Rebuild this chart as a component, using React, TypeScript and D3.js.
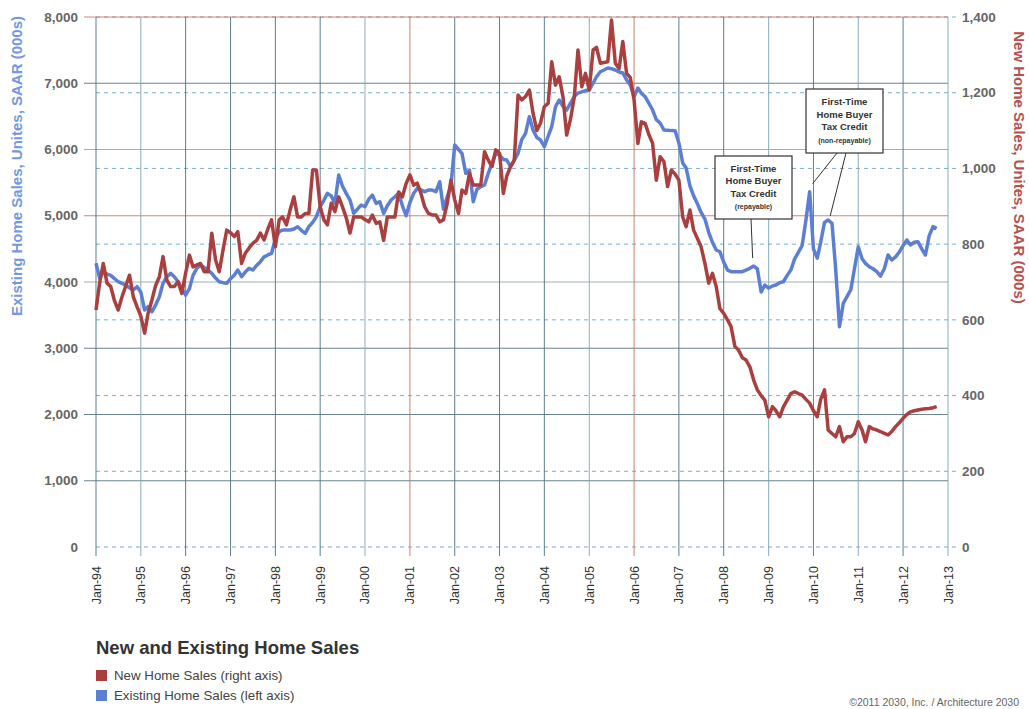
import React from "react";
import * as d3 from "d3";

const startYear = 1994;
const yearTicks = d3.range(1994, 2014);
const leftTicks = [0, 1000, 2000, 3000, 4000, 5000, 6000, 7000, 8000];
const rightTicks = [0, 200, 400, 600, 800, 1000, 1200, 1400];

const existingSales = [
  4283, 4050, 4156, 4120, 4100, 4050, 4004, 3980, 3954, 3910, 3879, 3929,
  3850, 3577, 3627, 3550, 3650, 3778, 3980, 4080, 4130, 4080, 4004, 3900,
  3800, 3900, 4100, 4206, 4256, 4220, 4181, 4130, 4060, 4004, 3990, 3980,
  4050, 4105, 4181, 4080, 4150, 4206, 4181, 4250, 4307, 4380, 4408, 4433,
  4650, 4760, 4785, 4785, 4785, 4800, 4835, 4780, 4735, 4835, 4900, 4985,
  5136, 5237, 5338, 5300, 5187, 5615, 5450, 5338, 5237, 5036, 5100, 5162,
  5136, 5250, 5313, 5187, 5212, 5036, 5150, 5237, 5287, 5338, 5150, 5000,
  5200, 5338, 5413, 5390, 5363, 5388, 5388, 5363, 5514, 5100, 5287, 5450,
  6068, 6000, 5942, 5640, 5690, 5212, 5400, 5438, 5464, 5640, 5791, 5942,
  5917, 5850, 5841, 5740, 5841, 5942, 6150, 6244, 6495, 6294, 6180, 6143,
  6043, 6200, 6344, 6646, 6747, 6650, 6596, 6700, 6800, 6852, 6870, 6890,
  6898, 7000, 7098, 7174, 7200, 7230, 7220, 7200, 7170, 7155, 7050, 6974,
  6797, 6928, 6850, 6797, 6700, 6596, 6450, 6400, 6294, 6290, 6285, 6283,
  6098, 5796, 5720, 5450, 5300, 5180, 5050, 4950, 4750, 4600, 4483, 4457,
  4300, 4180, 4156, 4156, 4156, 4156, 4180, 4206, 4240, 4200, 3850, 3954,
  3909, 3940, 3954, 3990, 4004, 4100, 4180, 4350, 4450, 4550, 4936, 5363,
  4500, 4360, 4600, 4900, 4936, 4886, 4200, 3325, 3678, 3778, 3880, 4200,
  4533, 4350, 4282, 4231, 4200, 4156, 4090, 4200, 4408, 4332, 4380, 4450,
  4550, 4634, 4559, 4600, 4609, 4500, 4408, 4700, 4835, 4810
];

const newSales = [
  626, 700, 749, 697, 688, 650, 626, 661, 690, 718, 661, 635,
  610, 565, 617, 652, 690, 714, 767, 705, 688, 688, 701, 670,
  723, 771, 740, 745, 749, 727, 727, 829, 758, 727, 785, 837,
  830, 820, 833, 749, 776, 790, 802, 810, 829, 811, 840, 864,
  793, 864, 872, 851, 890, 925, 872, 872, 881, 881, 996, 996,
  899, 864, 851, 908, 886, 925, 899, 870, 829, 872, 872, 872,
  865, 859, 877, 855, 859, 810, 872, 872, 872, 938, 925, 960,
  983, 956, 961, 934, 899, 881, 877, 877, 859, 864, 908, 969,
  917, 881, 943, 934, 987, 956, 956, 956, 1044, 1022, 1005, 1049,
  1040, 934, 980, 1005, 1022, 1194, 1181, 1190, 1207, 1146, 1100, 1120,
  1163, 1172, 1282, 1220, 1242, 1189, 1088, 1130, 1189, 1313, 1216, 1251,
  1207, 1313, 1320, 1278, 1280, 1282, 1392, 1278, 1264, 1335, 1251, 1240,
  1181, 1066, 1123, 1119, 1090, 1066, 969, 1031, 1018, 952, 996, 985,
  969, 872, 846, 890, 837, 815, 793, 749, 697, 723, 688, 630,
  617, 600, 582, 530, 520, 500, 494, 476, 441, 415, 400, 388,
  344, 371, 360, 344, 370, 388, 405, 410, 405, 401, 390, 380,
  360, 344, 390, 415, 309, 300, 291, 318, 278, 291, 291, 300,
  331, 309, 278, 318, 312, 309, 305, 300, 296, 305, 318, 328,
  340, 350, 357, 360, 362, 364, 365, 366, 368, 371
];

const annotationRepayable = ["First-Time", "Home Buyer", "Tax Credit", "(repayable)"];
const annotationNonRepayable = ["First-Time", "Home Buyer", "Tax Credit", "(non-repayable)"];

const W = 1029;
const H = 709;
const plot = { left: 96, right: 948, top: 17, bottom: 547 };

const RED = "#a9403f";
const BLUE = "#5d7fd3";
const GRID = "#4f6f7b";
const GRID_RED = "#c8735f";
const DASH = "#79afd0";
const FONT = "'Liberation Sans', Arial, sans-serif";

export default function App() {
  const x = d3
    .scaleTime()
    .domain([new Date(startYear, 0, 1), new Date(2013, 0, 1)])
    .range([plot.left, plot.right]);
  const yL = d3.scaleLinear().domain([0, 8000]).range([plot.bottom, plot.top]);
  const yR = d3.scaleLinear().domain([0, 1400]).range([plot.bottom, plot.top]);
  const dateOf = (i: number) => d3.timeMonth.offset(new Date(startYear, 0, 1), i);

  const lineL = d3
    .line<number>()
    .x((_, i) => x(dateOf(i)))
    .y((d) => yL(d))
    .curve(d3.curveLinear);
  const lineR = d3
    .line<number>()
    .x((_, i) => x(dateOf(i)))
    .y((d) => yR(d))
    .curve(d3.curveLinear);

  const fmtYear = d3.timeFormat("Jan-%y");
  const fmtNum = d3.format(",");

  const redYears = [2001, 2006];
  const lightYears = [1995, 2000, 2005, 2009, 2011, 2013];

  const ptA = { x: x(dateOf(176)), y: yL(existingSales[176]) };
  const ptB = { x: x(dateOf(191)), y: yL(existingSales[191]) };
  const ptC = { x: x(dateOf(196)), y: yL(existingSales[196]) };

  return (
    <svg width={W} height={H} style={{ position: "absolute", left: 0, top: 0, background: "#fff" }}>
      <rect x={0} y={0} width={W} height={H} fill="#fff" />
      {rightTicks.map((t) => (
        <line
          key={"rd" + t}
          x1={plot.left}
          x2={plot.right + 10}
          y1={yR(t)}
          y2={yR(t)}
          stroke={DASH}
          strokeWidth={1}
          strokeDasharray="4,4"
        />
      ))}
      {leftTicks
        .filter((t) => t > 0)
        .map((t) => (
          <line
            key={"lg" + t}
            x1={plot.left - 12}
            x2={plot.right}
            y1={yL(t)}
            y2={yL(t)}
            stroke={t === 5000 || t === 8000 ? GRID_RED : GRID}
            strokeOpacity={t === 6000 || t === 4000 ? 0.55 : 0.85}
            strokeWidth={1}
          />
        ))}
      {yearTicks.map((yr) => {
        const xx = x(new Date(yr, 0, 1));
        const col = redYears.includes(yr) ? GRID_RED : lightYears.includes(yr) ? "#7fa3b3" : GRID;
        return (
          <line
            key={"v" + yr}
            x1={xx}
            x2={xx}
            y1={plot.top}
            y2={plot.bottom + 9}
            stroke={col}
            strokeOpacity={0.9}
            strokeWidth={1}
          />
        );
      })}
      {leftTicks.map((t) => (
        <text
          key={"lt" + t}
          x={78}
          y={yL(t)}
          dy="0.35em"
          textAnchor="end"
          fontFamily={FONT}
          fontWeight="bold"
          fontSize={13.5}
          fill="#666"
        >
          {fmtNum(t)}
        </text>
      ))}
      {rightTicks.map((t) => (
        <text
          key={"rt" + t}
          x={962}
          y={yR(t)}
          dy="0.35em"
          textAnchor="start"
          fontFamily={FONT}
          fontWeight="bold"
          fontSize={13.5}
          fill="#666"
        >
          {fmtNum(t)}
        </text>
      ))}
      {yearTicks.map((yr) => {
        const xx = x(new Date(yr, 0, 1));
        return (
          <text
            key={"xt" + yr}
            transform={`translate(${xx + 4.5},${plot.bottom + 19}) rotate(-90)`}
            textAnchor="end"
            fontFamily={FONT}
            fontSize={12.5}
            fill="#333"
          >
            {fmtYear(new Date(yr, 0, 1))}
          </text>
        );
      })}
      <text
        transform={`translate(22,${(plot.top + 315) / 2}) rotate(-90)`}
        textAnchor="middle"
        fontFamily={FONT}
        fontWeight="bold"
        fontSize={15}
        fill="#7597de"
      >
        Existing Home Sales, Unites, SAAR (000s)
      </text>
      <text
        transform={`translate(1014,${(plot.top + 318) / 2}) rotate(90)`}
        textAnchor="middle"
        fontFamily={FONT}
        fontWeight="bold"
        fontSize={15}
        fill="#b65050"
      >
        New Home Sales, Unites, SAAR (000s)
      </text>
      <path d={lineL(existingSales) || ""} fill="none" stroke={BLUE} strokeWidth={3.5} strokeLinejoin="round" />
      <path d={lineR(newSales) || ""} fill="none" stroke={RED} strokeWidth={3.5} strokeLinejoin="round" />
      <g fontFamily={FONT} fontWeight="bold" fill="#333" textAnchor="middle">
        <line x1={751} y1={219} x2={ptA.x - 1} y2={ptA.y - 8} stroke="#333" strokeWidth={1} />
        <rect x={715} y={156} width={77} height={63} fill="#fff" stroke="#333" strokeWidth={1.2} />
        {annotationRepayable.map((s, i) => (
          <text key={"a" + i} x={753.5} y={171.5 + i * 12.6} fontSize={i === 3 ? 7 : 9.5}>
            {s}
          </text>
        ))}
        <line x1={837} y1={153} x2={ptB.x + 3} y2={ptB.y - 8} stroke="#333" strokeWidth={1} />
        <line x1={846} y1={153} x2={ptC.x + 2} y2={ptC.y - 4} stroke="#333" strokeWidth={1} />
        <rect x={806} y={89} width={77} height={64} fill="#fff" stroke="#333" strokeWidth={1.2} />
        {annotationNonRepayable.map((s, i) => (
          <text key={"b" + i} x={844.5} y={105 + i * 12.6} fontSize={i === 3 ? 7 : 9.5}>
            {s}
          </text>
        ))}
      </g>
      <text x={96} y={654} fontFamily={FONT} fontWeight="bold" fontSize={18.5} fill="#333">
        New and Existing Home Sales
      </text>
      <rect x={96} y={670} width={11} height={11} fill={RED} />
      <text x={114} y={680} fontFamily={FONT} fontSize={13.3} fill="#444">
        New Home Sales (right axis)
      </text>
      <rect x={96} y={690} width={11} height={11} fill={BLUE} />
      <text x={114} y={700} fontFamily={FONT} fontSize={13.3} fill="#444">
        Existing Home Sales (left axis)
      </text>
      <text x={1019} y={706} textAnchor="end" fontFamily={FONT} fontSize={10.5} fill="#666">
        ©2011 2030, Inc. / Architecture 2030
      </text>
    </svg>
  );
}
